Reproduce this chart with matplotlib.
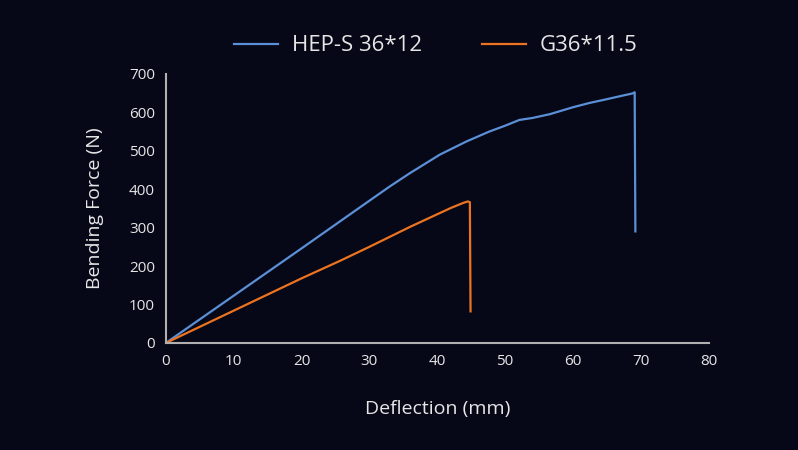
import matplotlib.pyplot as plt

# bending test curves
hep_x = [0, 10, 20, 30, 33, 36, 40.4, 44.3, 47.7, 50, 52.1, 54, 56.6, 60, 62.4, 65, 67, 68.8, 69.1, 69.2]
hep_y = [0, 123, 246, 370, 407, 442, 490, 524, 550, 565, 580, 585, 595, 613, 624, 634, 642, 649, 652, 290]

g_x = [0, 10, 20, 25.6, 30, 33, 36, 40.4, 42, 43.8, 44.5, 44.8, 44.9]
g_y = [0, 84, 168, 213, 250, 276, 302, 338, 351, 364, 368, 366, 82]

labels = ["HEP-S 36*12", "G36*11.5"]
xticks = [0, 10, 20, 30, 40, 50, 60, 70, 80]
yticks = [0, 100, 200, 300, 400, 500, 600, 700]

bg = "#060818"
fg = "#e6e6e6"
plt.rcParams["font.family"] = ["Open Sans", "DejaVu Sans"]

fig = plt.figure(figsize=(7.98, 4.5), dpi=100, facecolor=bg)
ax = fig.add_axes([0.208, 0.238, 0.68, 0.598], facecolor=bg)

ax.plot(hep_x, hep_y, color="#5b8fd6", lw=1.6, label=labels[0])
ax.plot(g_x, g_y, color="#ec7320", lw=1.6, label=labels[1])

ax.set_xlim(0, 80)
ax.set_ylim(0, 700)
ax.set_xticks(xticks)
ax.set_yticks(yticks)
ax.tick_params(colors=fg, labelsize=11, length=0, pad=8)
for s in ["top", "right"]:
    ax.spines[s].set_visible(False)
for s in ["left", "bottom"]:
    ax.spines[s].set_color("#b0b0b0")
    ax.spines[s].set_linewidth(1.5)

ax.set_xlabel("Deflection (mm)", color=fg, fontsize=14, labelpad=22)
ax.set_ylabel("Bending Force (N)", color=fg, fontsize=14, labelpad=18)

leg = fig.legend(loc="center", bbox_to_anchor=(0.546, 0.898), ncol=2, frameon=False,
                 fontsize=16, handlelength=2.0, handletextpad=0.6, columnspacing=2.7)
for t in leg.get_texts():
    t.set_color(fg)

plt.savefig("out.png", dpi=100, facecolor=bg)
